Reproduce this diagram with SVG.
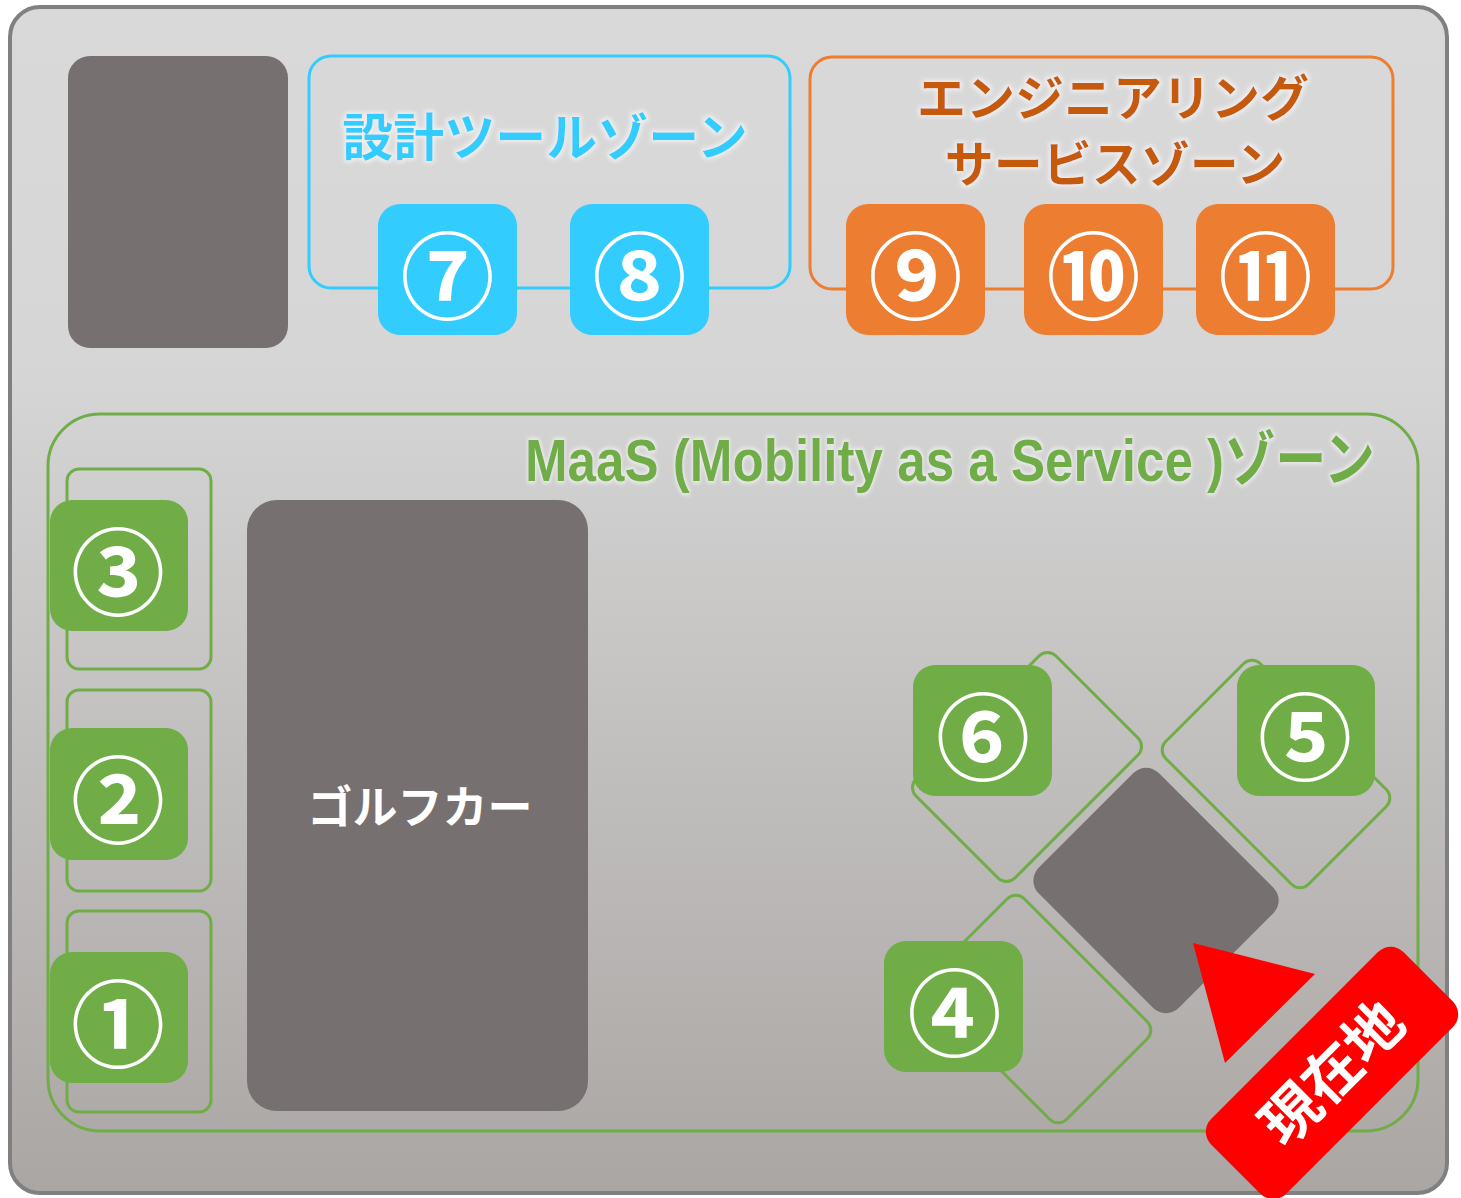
<svg xmlns="http://www.w3.org/2000/svg" width="1461" height="1198" viewBox="0 0 1461 1198">
<defs>
<linearGradient id="bg" x1="0" y1="0" x2="0" y2="1">
<stop offset="0" stop-color="#d9d9d9"/>
<stop offset="0.3" stop-color="#d6d6d6"/>
<stop offset="1" stop-color="#aaa6a4"/>
</linearGradient>
<filter id="glow" x="-10%" y="-60%" width="120%" height="220%">
<feMorphology in="SourceAlpha" operator="dilate" radius="1.5" result="d"/>
<feGaussianBlur in="d" stdDeviation="2" result="b"/>
<feFlood flood-color="#ffffff" flood-opacity="0.6"/>
<feComposite in2="b" operator="in" result="g"/>
<feMerge><feMergeNode in="g"/><feMergeNode in="SourceGraphic"/></feMerge>
</filter>
<style>
.jp{font-family:"Noto Sans CJK JP","Noto Sans CJK SC",sans-serif;font-weight:bold}
.num{font-family:"Noto Sans CJK JP","DejaVu Sans",sans-serif;font-weight:bold;font-size:94px;fill:#ffffff;text-anchor:middle}
.dark{fill:#767170}
.blue{fill:#33ccff}
.orange{fill:#ed7d31}
.green{fill:#70ad47}
.gline{fill:none;stroke:#70ad47;stroke-width:3}
</style>
</defs>
<rect width="1461" height="1198" fill="#ffffff"/>
<rect id="frame" x="10" y="7" width="1437" height="1186" rx="30" fill="url(#bg)" stroke="#808080" stroke-width="4"/>

<g id="zones">
<g id="zone-design">
<rect x="309" y="56" width="481" height="232" rx="22" fill="none" stroke="#33ccff" stroke-width="3"/>
<text class="jp" x="545" y="156" font-size="51" fill="#33ccff" text-anchor="middle" filter="url(#glow)">設計ツールゾーン</text>
</g>
<g id="zone-engineering">
<rect x="810" y="57" width="583" height="232" rx="22" fill="none" stroke="#ed7d31" stroke-width="3"/>
<text class="jp" x="1113" y="116" font-size="49" fill="#c55a11" text-anchor="middle" filter="url(#glow)">エンジニアリング</text>
<text class="jp" x="1115" y="182" font-size="49" fill="#c55a11" text-anchor="middle" filter="url(#glow)">サービスゾーン</text>
</g>
<g id="zone-maas">
<rect x="48" y="414" width="1370" height="717" rx="52" class="gline"/>
<text transform="translate(525 481) scale(0.85 1)" x="0" y="0" font-family="'Liberation Sans','Noto Sans CJK JP',sans-serif" font-weight="bold" font-size="60" fill="#70ad47" textLength="1000" lengthAdjust="spacingAndGlyphs" filter="url(#glow)">MaaS (Mobility as a Service )ゾーン</text>
</g>
</g>

<g id="connectors"></g>

<g id="node-topleft"><rect x="68" y="56" width="220" height="292" rx="22" class="dark"/></g>

<g id="node-7"><rect x="378" y="204" width="139" height="131" rx="22" class="blue"/><text class="num" x="447.5" y="312">⑦</text></g>
<g id="node-8"><rect x="570" y="204" width="139" height="131" rx="22" class="blue"/><text class="num" x="639.5" y="312">⑧</text></g>
<g id="node-9"><rect x="846" y="204" width="139" height="131" rx="22" class="orange"/><text class="num" x="915.5" y="312">⑨</text></g>
<g id="node-10"><rect x="1024" y="204" width="139" height="131" rx="22" class="orange"/><text class="num" x="1093.5" y="312">⑩</text></g>
<g id="node-11"><rect x="1196" y="204" width="139" height="131" rx="22" class="orange"/><text class="num" x="1265.5" y="312">⑪</text></g>

<g id="slot-3"><rect x="67" y="469" width="144" height="200" rx="12" class="gline"/></g>
<g id="slot-2"><rect x="67" y="690" width="144" height="201" rx="12" class="gline"/></g>
<g id="slot-1"><rect x="67" y="911" width="144" height="201" rx="12" class="gline"/></g>
<g id="node-3"><rect x="50" y="500" width="138" height="131" rx="22" class="green"/><text class="num" x="118" y="608">③</text></g>
<g id="node-2"><rect x="50" y="728" width="138" height="132" rx="22" class="green"/><text class="num" x="118" y="836">②</text></g>
<g id="node-1"><rect x="50" y="952" width="138" height="131" rx="22" class="green"/><text class="num" x="118" y="1060">①</text></g>

<g id="node-golfcar">
<rect x="247" y="500" width="341" height="611" rx="30" class="dark"/>
<text class="jp" x="420" y="824" font-size="45" fill="#ffffff" text-anchor="middle">ゴルフカー</text>
</g>

<g id="slot-6"><rect x="-70" y="-99" width="140" height="198" rx="12" transform="translate(1027 767) rotate(45)" class="gline"/></g>
<g id="slot-5"><rect x="-101" y="-67" width="202" height="134" rx="12" transform="translate(1276 774) rotate(45)" class="gline"/></g>
<g id="slot-4"><rect x="-99" y="-69" width="198" height="138" rx="12" transform="translate(1037 1009) rotate(45)" class="gline"/></g>
<g id="node-center"><rect x="-99" y="-85" width="198" height="170" rx="18" transform="translate(1156 890.5) rotate(45)" class="dark"/></g>

<g id="node-6"><rect x="913" y="665" width="139" height="131" rx="22" class="green"/><text class="num" x="983" y="773">⑥</text></g>
<g id="node-5"><rect x="1237" y="665" width="138" height="131" rx="22" class="green"/><text class="num" x="1305" y="773">⑤</text></g>
<g id="node-4"><rect x="884" y="941" width="139" height="131" rx="22" class="green"/><text class="num" x="954.5" y="1049">④</text></g>

<g id="marker-here">
<polygon points="1193,943 1315,974 1225,1063" fill="#ff0000"/>
<g transform="translate(1332 1073) rotate(-45)">
<rect x="-136" y="-53" width="272" height="106" rx="18" fill="#ff0000"/>
<text class="jp" x="0" y="21" font-size="58" fill="#ffffff" text-anchor="middle">現在地</text>
</g>
</g>
</svg>
